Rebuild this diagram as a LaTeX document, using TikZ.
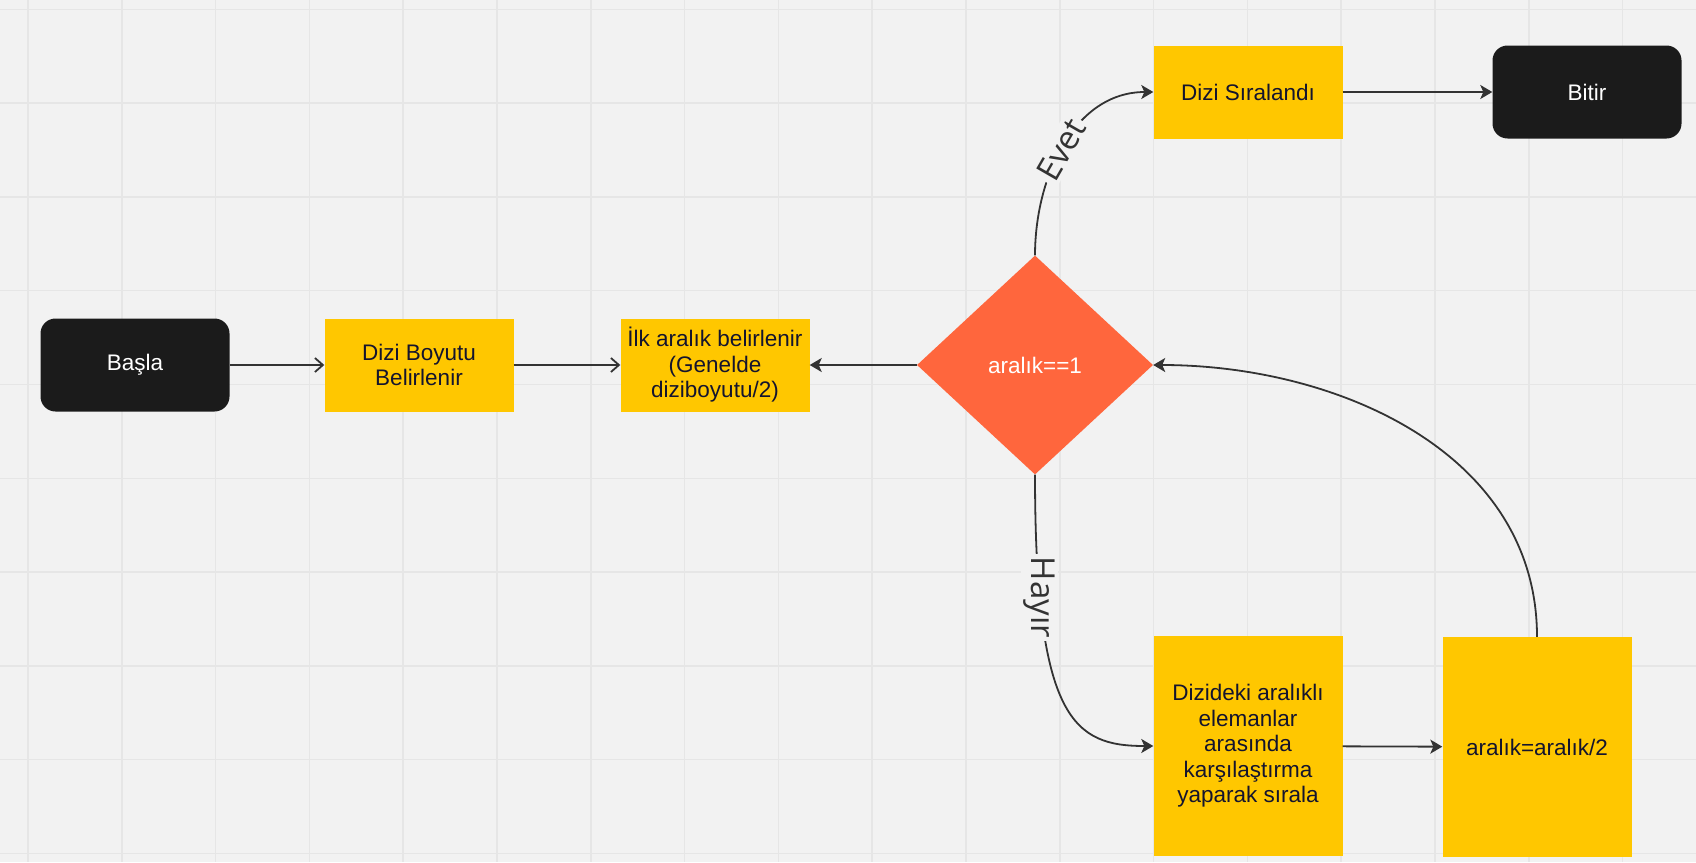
\documentclass[tikz,border=0pt]{standalone}
\usepackage{fontspec}
\setmainfont{Liberation Sans}
\newfontfamily\etiketfont{Open Sans}
\usetikzlibrary{shapes.geometric,arrows.meta}

\definecolor{zemin}{HTML}{F2F2F2}
\definecolor{izgara}{HTML}{E6E6E6}
\definecolor{sari}{HTML}{FFC700}
\definecolor{siyah}{HTML}{1B1B1B}
\definecolor{turuncu}{HTML}{FF663D}
\definecolor{koyu}{HTML}{14142E}
\definecolor{cizgi}{HTML}{333333}

\begin{document}
\begin{tikzpicture}[x=1pt,y=-1pt,
  every node/.style={font=\fontsize{22.5}{25.5}\selectfont},
  kutu/.style={rectangle,fill=sari,text=koyu,minimum width=189pt,minimum height=93pt,align=center,inner sep=2pt},
  uc/.style={rectangle,rounded corners=15pt,fill=siyah,text=white,minimum width=189pt,minimum height=93pt},
  karar/.style={diamond,fill=turuncu,text=white,minimum width=236pt,minimum height=219pt,inner sep=0pt},
  ok/.style={draw=cizgi,line width=1.8pt,-{Stealth[length=12pt,width=14pt,inset=3pt]}},
  acikok/.style={draw=cizgi,line width=1.8pt,-{Straight Barb[length=8pt,width=14pt]}},
  etiket/.style={fill=zemin,text=cizgi,font=\etiketfont\fontsize{33}{33}\selectfont,inner sep=3pt}]

% zemin ve izgara
\fill[zemin] (0,0) rectangle (1696,862);
\useasboundingbox (0,0) rectangle (1696,862);
\foreach \i in {0,...,17} \draw[izgara,line width=1.5pt] ({28+93.8*\i},0) -- ++(0,862);
\foreach \j in {0,...,9} \draw[izgara,line width=1.5pt] (0,{9.3+93.8*\j}) -- ++(1696,0);

\coordinate (A) at (135,365);
\coordinate (B) at (419,365);
\coordinate (C) at (715,365);
\coordinate (D) at (1035,365);
\coordinate (E) at (1248,92);
\coordinate (F) at (1587,92);
\coordinate (G) at (1248,746);
\coordinate (H) at (1537,747);

\node[uc] (basla) at (A) {Başla};
\node[kutu] (boyut) at (B) {Dizi Boyutu\\Belirlenir};
\node[kutu] (ilk) at (C) {İlk aralık belirlenir\\(Genelde\\diziboyutu/2)};
\node[karar] (karar) at (D) {aralık==1};
\node[kutu] (sirali) at (E) {Dizi Sıralandı};
\node[uc] (bitir) at (F) {Bitir};
\node[kutu,minimum height=220pt] (karsilastir) at (G) {Dizideki aralıklı\\elemanlar\\arasında\\karşılaştırma\\yaparak sırala};
\node[kutu,minimum height=220pt] (yarila) at (H) {aralık=aralık/2};

\draw[acikok] (basla) -- (boyut);
\draw[acikok] (boyut) -- (ilk);
\draw[ok] (karar) -- (ilk);
\draw[ok] (karar.north) to[out=90,in=180] node[etiket,pos=0.47,sloped] {Evet} (sirali.west);
\draw[ok] (sirali) -- (bitir);
\draw[ok] (karar.south) .. controls +(0,246) and +(-79,0) .. node[etiket,pos=0.2,rotate=-90] {Hayır} (karsilastir.west);
\draw[ok] (karsilastir) -- (yarila);
\draw[ok] (yarila.north) to[out=90,in=0] (karar.east);

\end{tikzpicture}
\end{document}
